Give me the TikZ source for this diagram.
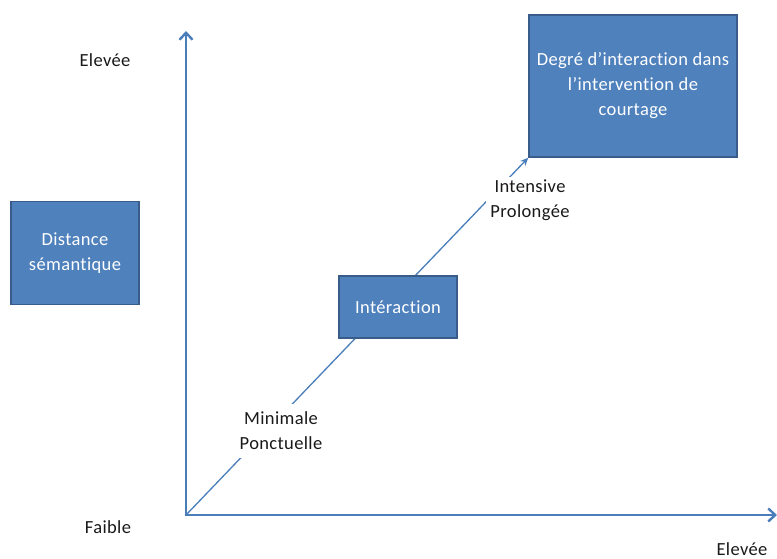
\documentclass[tikz,border=0pt]{standalone}
\usepackage{fontspec}
\usepackage{tkz-euclide}
\usetikzlibrary{arrows.meta}
\setmainfont{Carlito}[Ligatures={NoCommon}, LetterSpace=2]
\definecolor{officeblue}{HTML}{4F81BD}
\definecolor{officeedge}{HTML}{385D8A}
\definecolor{axisblue}{HTML}{4A7EBB}
\tikzset{
    bluebox/.style={draw=officeedge, line width=1.5pt, fill=officeblue, text=white, align=center, inner sep=0pt, font=\fontsize{18.5}{25}\selectfont},
    axislabel/.style={align=center, text=black!90, font=\fontsize{18.5}{25}\selectfont},
    scalelabel/.style={axislabel, fill=white, inner xsep=4pt, inner ysep=3pt},
    axisline/.style={draw=axisblue, line width=2.6pt, -{Straight Barb[length=7pt,width=13pt,line width=2.4pt]}},
    trendline/.style={draw=axisblue, line width=1.3pt, -{Stealth[length=8pt,width=7pt]}}
}

\begin{document}
\begin{tikzpicture}[x=1pt, y=1pt]
    \useasboundingbox (0,0) rectangle (777,559);
    \tkzDefPoints{186/44/O, 186/528/Y, 777/44/X}
    \node[bluebox, minimum width=208, minimum height=142] (degre) at (633,473) {Degré d’interaction dans\\l’intervention de\\courtage};
    \node[bluebox, minimum width=128, minimum height=103] (distance) at (75,306) {Distance\\sémantique};
    \draw[trendline] (O) -- (degre.south west);
    \node[bluebox, minimum width=118, minimum height=62] (interaction) at (398,252) {Intéraction};
    \node[scalelabel, inner ysep=8pt] (minimale) at (281,128) {Minimale\\Ponctuelle};
    \node[scalelabel] (intensive) at (530,359) {Intensive\\Prolongée};
    \node[axislabel] (haut) at (105,499) {Elevée};
    \node[axislabel] (faible) at (108,32) {Faible};
    \node[axislabel] (droite) at (742,10) {Elevée};
    \draw[axisline] (O) -- (Y);
    \draw[axisline] ([xshift=-1.3pt]O) -- (X);
\end{tikzpicture}
\end{document}
